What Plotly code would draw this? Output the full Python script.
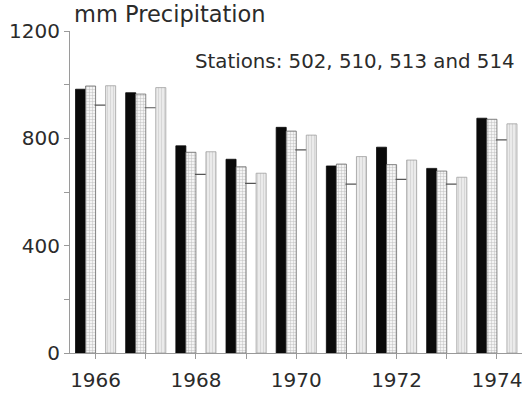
import plotly.graph_objects as go

# Annual precipitation (mm) at four stations
years = [1966, 1967, 1968, 1969, 1970, 1971, 1972, 1973, 1974]
station_502 = [983, 970, 772, 722, 841, 697, 767, 688, 875]
station_510 = [995, 965, 748, 694, 827, 704, 702, 678, 871]
station_513 = [924, 914, 666, 632, 757, 629, 647, 629, 794]
station_514 = [996, 989, 750, 670, 812, 732, 719, 655, 854]

y_tickvals = [0, 200, 400, 600, 800, 1000, 1200]
y_ticktext = ["0", "", "400", "", "800", "", "1200"]
x_ticktext = ["1966", "", "1968", "", "1970", "", "1972", "", "1974"]

FONT = "DejaVu Sans"
TEXT = "#2b2b2b"

fig = go.Figure()

fig.add_trace(go.Bar(
    x=years, y=station_502, name="502",
    marker=dict(color="#0a0a0a", line=dict(color="#0a0a0a", width=0.8)),
))
fig.add_trace(go.Bar(
    x=years, y=station_510, name="510",
    marker=dict(
        color="#ffffff",
        line=dict(color="#6a6a6a", width=0.8),
        pattern=dict(shape="+", size=3, solidity=0.3,
                     fgcolor="#8a8a8a", bgcolor="#f4f4f4"),
    ),
))
# station 513: open bar, only its top edge is drawn (zero-length error cap)
fig.add_trace(go.Bar(
    x=years, y=station_513, name="513",
    marker=dict(color="rgba(255,255,255,0)", line=dict(width=0)),
    error_y=dict(type="data", array=[0] * len(years), symmetric=True,
                 color="#555555", thickness=1.2, width=6),
))
fig.add_trace(go.Bar(
    x=years, y=station_514, name="514",
    marker=dict(
        color="#e2e2e2",
        line=dict(color="#a0a0a0", width=0.8),
        pattern=dict(shape="|", size=3, solidity=0.35,
                     fgcolor="#c4c4c4", bgcolor="#ebebeb"),
    ),
))

fig.update_layout(
    width=522, height=395,
    margin=dict(l=70, r=0, t=31, b=42),
    paper_bgcolor="white", plot_bgcolor="white",
    barmode="group", bargap=0.2, bargroupgap=0,
    showlegend=False,
    font=dict(family=FONT, size=20, color=TEXT),
    xaxis=dict(
        range=[1965.49, 1974.5],
        tickvals=years, ticktext=x_ticktext,
        ticks="outside", ticklen=5, tickcolor="#9a9a9a", tickwidth=1,
        showline=True, linecolor="#9a9a9a", linewidth=1,
        showgrid=False, zeroline=False,
        ticklabeloverflow="allow", ticklabelstandoff=4,
        tickfont=dict(family=FONT, size=20, color=TEXT),
    ),
    yaxis=dict(
        range=[0, 1200],
        tickvals=y_tickvals, ticktext=y_ticktext,
        ticks="outside", ticklen=5, tickcolor="#9a9a9a", tickwidth=1,
        showline=True, linecolor="#9a9a9a", linewidth=1,
        showgrid=False, zeroline=False,
        tickfont=dict(family=FONT, size=20, color=TEXT),
    ),
    annotations=[
        dict(text="mm Precipitation", xref="paper", yref="paper",
             x=0.004, y=1.053, xanchor="left", yanchor="middle",
             showarrow=False, font=dict(family=FONT, size=22.5, color=TEXT)),
        dict(text="Stations: 502, 510, 513 and 514", xref="paper", yref="paper",
             x=0.272, y=0.904, xanchor="left", yanchor="middle",
             showarrow=False, font=dict(family=FONT, size=19.8, color=TEXT)),
    ],
)

fig.write_html("out.html")
